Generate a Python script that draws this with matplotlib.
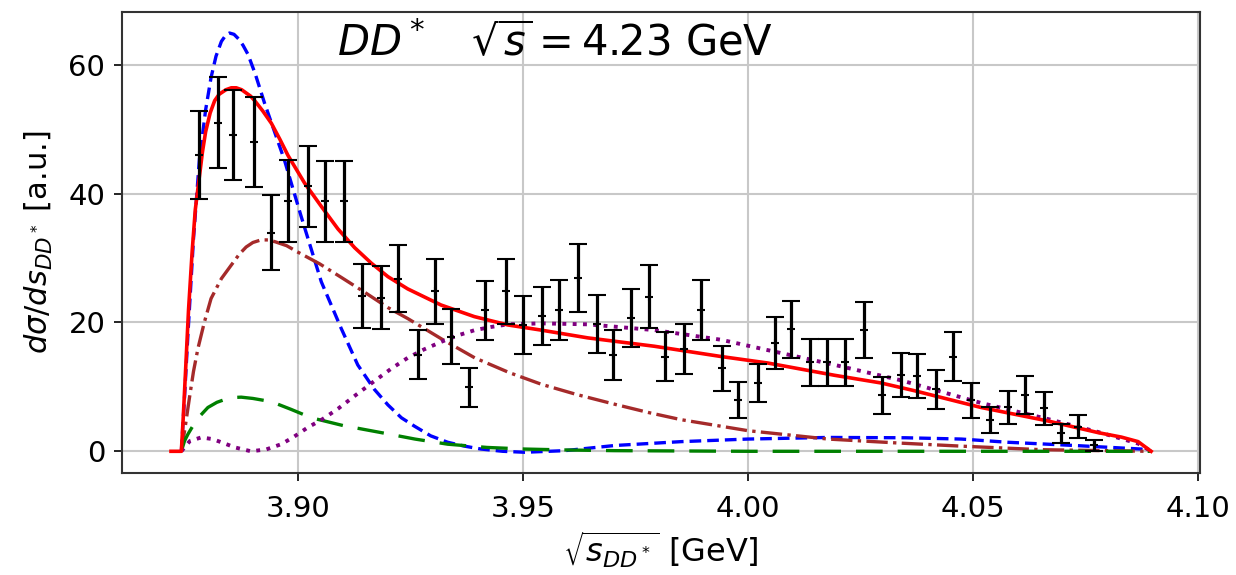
import numpy as np
import matplotlib
matplotlib.use("Agg")
import matplotlib.pyplot as plt

# data points
x_data = [3.8781, 3.8822, 3.8856, 3.8902, 3.8941, 3.8978, 3.9022, 3.9061, 3.9102, 3.9142,
          3.9184, 3.9222, 3.9267, 3.9304, 3.9341, 3.9381, 3.9416, 3.9463, 3.9500, 3.9542,
          3.9581, 3.9622, 3.9665, 3.9700, 3.9741, 3.9781, 3.9816, 3.9859, 3.9895, 3.9942,
          3.9979, 4.0022, 4.0061, 4.0096, 4.0139, 4.0176, 4.0216, 4.0259, 4.0297, 4.0341,
          4.0376, 4.0417, 4.0456, 4.0495, 4.0537, 4.0578, 4.0616, 4.0658, 4.0696, 4.0733,
          4.0770]
y_data = [46.0, 51.0, 49.1, 48.0, 33.9, 38.8, 41.1, 38.8, 38.8, 24.1,
          23.8, 26.8, 15.0, 24.8, 17.8, 9.9, 21.9, 24.8, 19.6, 21.0,
          21.9, 26.9, 19.7, 14.9, 20.7, 24.0, 14.7, 15.9, 21.9, 12.9,
          7.9, 10.6, 16.8, 18.9, 13.8, 13.8, 13.8, 18.8, 8.7, 11.8,
          11.7, 9.6, 14.7, 7.9, 4.8, 6.8, 8.7, 6.7, 2.8, 3.8,
          0.9]
y_err = [6.8, 7.1, 7.0, 7.0, 5.8, 6.4, 6.3, 6.3, 6.3, 5.0,
         4.9, 5.2, 3.8, 5.0, 4.3, 3.1, 4.6, 5.0, 4.5, 4.5,
         4.7, 5.3, 4.5, 3.85, 4.5, 4.85, 3.85, 3.9, 4.7, 3.5,
         2.8, 3.0, 4.0, 4.4, 3.6, 3.6, 3.6, 4.3, 2.9, 3.4,
         3.4, 3.05, 3.8, 2.75, 2.0, 2.55, 2.95, 2.55, 1.45, 1.8,
         0.9]

# total (red)
x_tot = [3.8718, 3.8741, 3.8745, 3.8750, 3.8757, 3.8765, 3.8772, 3.8780, 3.8788, 3.8795,
         3.8805, 3.8815, 3.8825, 3.8840, 3.8852, 3.8863, 3.8875, 3.8885, 3.8895, 3.8904,
         3.8922, 3.8941, 3.8960, 3.8978, 3.9015, 3.9052, 3.9089, 3.9126, 3.9163, 3.9200,
         3.9244, 3.9318, 3.9392, 3.9467, 3.9541, 3.9644, 3.9792, 3.9941, 4.0044, 4.0192,
         4.0296, 4.0370, 4.0518, 4.0667, 4.0778, 4.0830, 4.0867, 4.0896]
y_tot = [0.0, 0.0, 5.0, 12.0, 22.0, 31.0, 37.5, 42.0, 46.5, 49.6,
         52.5, 54.4, 55.4, 56.1, 56.4, 56.4, 56.1, 55.6, 55.1, 54.4,
         52.8, 50.9, 48.4, 45.9, 41.6, 38.0, 34.5, 31.6, 29.2, 27.1,
         25.2, 22.7, 20.9, 19.6, 18.8, 17.6, 16.3, 14.7, 13.7, 11.8,
         10.6, 9.4, 6.8, 4.7, 2.9, 2.2, 1.5, 0.0]

# blue dashed
x_blue = [3.8741, 3.8748, 3.8756, 3.8768, 3.8781, 3.8795, 3.8807, 3.8818, 3.8830, 3.8840,
          3.8848, 3.8858, 3.8868, 3.8878, 3.8889, 3.8905, 3.8926, 3.8948, 3.8970, 3.9007,
          3.9052, 3.9096, 3.9133, 3.9170, 3.9200, 3.9230, 3.9259, 3.9295, 3.9333, 3.9370,
          3.9407, 3.9455, 3.9504, 3.9593, 3.9704, 3.9852, 4.0000, 4.0178, 4.0350, 4.0474,
          4.0578, 4.0726, 4.0874, 4.0896]
y_blue = [0.0, 8.3, 18.6, 33.0, 45.2, 53.0, 58.0, 61.3, 63.6, 64.6,
          64.9, 64.7, 64.0, 63.0, 61.6, 58.6, 54.0, 49.6, 45.2, 36.5,
          26.3, 19.1, 13.4, 9.6, 7.2, 5.2, 3.9, 2.4, 1.4, 0.8,
          0.35, 0.0, -0.15, 0.1, 0.9, 1.5, 1.9, 2.15, 2.1, 1.9,
          1.4, 0.9, 0.35, 0.0]

# brown dash-dot
x_brown = [3.8741, 3.8750, 3.8759, 3.8768, 3.8778, 3.8792, 3.8807, 3.8830, 3.8852, 3.8870,
           3.8885, 3.8900, 3.8918, 3.8935, 3.8950, 3.8975, 3.9000, 3.9048, 3.9096, 3.9150,
           3.9200, 3.9244, 3.9320, 3.9393, 3.9470, 3.9541, 3.9620, 3.9704, 3.9780, 3.9852,
           4.0000, 4.0178, 4.0330, 4.0474, 4.0652, 4.0889]
y_brown = [0.0, 4.0, 8.3, 12.4, 16.0, 20.0, 23.7, 26.8, 28.9, 30.6,
           31.7, 32.4, 32.8, 32.8, 32.5, 31.9, 30.9, 29.1, 27.0, 24.6,
           22.3, 20.6, 17.4, 14.5, 12.2, 10.4, 8.8, 7.3, 6.0, 4.9,
           3.2, 1.9, 1.3, 0.8, 0.25, 0.0]

# green long dash
x_green = [3.8741, 3.8748, 3.8756, 3.8768, 3.8780, 3.8800, 3.8820, 3.8840, 3.8857, 3.8874,
           3.8900, 3.8941, 3.8985, 3.9030, 3.9100, 3.9185, 3.9260, 3.9333, 3.9420, 3.9504,
           3.9600, 3.9704, 4.0000, 4.0500, 4.0896]
y_green = [0.0, 1.6, 2.7, 4.1, 5.3, 6.8, 7.6, 8.1, 8.35, 8.4,
           8.2, 7.7, 6.5, 5.2, 4.0, 2.9, 1.9, 1.1, 0.6, 0.35,
           0.2, 0.1, 0.0, 0.0, 0.0]

# purple dotted
x_purp = [3.8741, 3.8760, 3.8785, 3.8810, 3.8830, 3.8860, 3.8896, 3.8930, 3.8963, 3.8990,
          3.9022, 3.9055, 3.9089, 3.9130, 3.9170, 3.9207, 3.9244, 3.9280, 3.9319, 3.9356,
          3.9393, 3.9430, 3.9467, 3.9541, 3.9644, 3.9793, 3.9941, 4.0044, 4.0193, 4.0341,
          4.0518, 4.0667, 4.0778, 4.0867, 4.0896]
y_purp = [0.0, 1.6, 2.15, 1.9, 1.4, 0.6, 0.0, 0.3, 1.1, 2.2,
          3.7, 5.0, 6.6, 8.8, 10.9, 12.8, 14.5, 15.8, 17.0, 18.0,
          18.8, 19.3, 19.7, 19.85, 19.7, 18.8, 17.3, 15.7, 13.4, 11.0,
          7.5, 5.0, 3.0, 1.2, 0.0]

plt.rcParams['font.size'] = 21
plt.rcParams['mathtext.fontset'] = 'dejavusans'

fig = plt.figure(figsize=(12.36, 5.75), dpi=100)
ax = fig.add_axes([0.0987, 0.177, 0.8723, 0.802])

ax.plot(x_blue, y_blue, color='blue', linestyle='--', linewidth=2.4, dashes=(3.5, 1.8))
ax.plot(x_brown, y_brown, color='brown', linestyle='-.', linewidth=2.4)
ax.plot(x_green, y_green, color='green', linewidth=2.4, dashes=(8, 4.5))
ax.plot(x_purp, y_purp, color='purple', linestyle=':', linewidth=2.8)
ax.plot(x_tot, y_tot, color='red', linewidth=2.6)
ax.errorbar(x_data, y_data, yerr=y_err, fmt='k+', markersize=6, markeredgewidth=1.5,
            elinewidth=2.3, capsize=6.5, capthick=2.3)

ax.grid(True, color='#c8c8c8', linewidth=1.5)
ax.set_axisbelow(True)
ax.set_xticks([3.90, 3.95, 4.00, 4.05, 4.10])
ax.set_xticklabels(['3.90', '3.95', '4.00', '4.05', '4.10'])
ax.set_yticks([0, 20, 40, 60])
ax.tick_params(axis='x', length=6, width=1.2, pad=10)
ax.tick_params(axis='y', length=6, width=1.2, pad=6)
for s in ax.spines.values():
    s.set_linewidth(1.5)
    s.set_color('#333333')

ax.set_xlabel(r'$\sqrt{s_{DD^*}}$ [GeV]', fontsize=23, labelpad=4)
ax.set_ylabel(r'$d\sigma/ds_{DD^*}$ [a.u.]', fontsize=22, labelpad=10)
ax.text(0.402, 0.978, r'$DD^*\quad\sqrt{s}=4.23$ GeV', transform=ax.transAxes,
        ha='center', va='top', fontsize=30)

fig.savefig('out.png', dpi=100)
